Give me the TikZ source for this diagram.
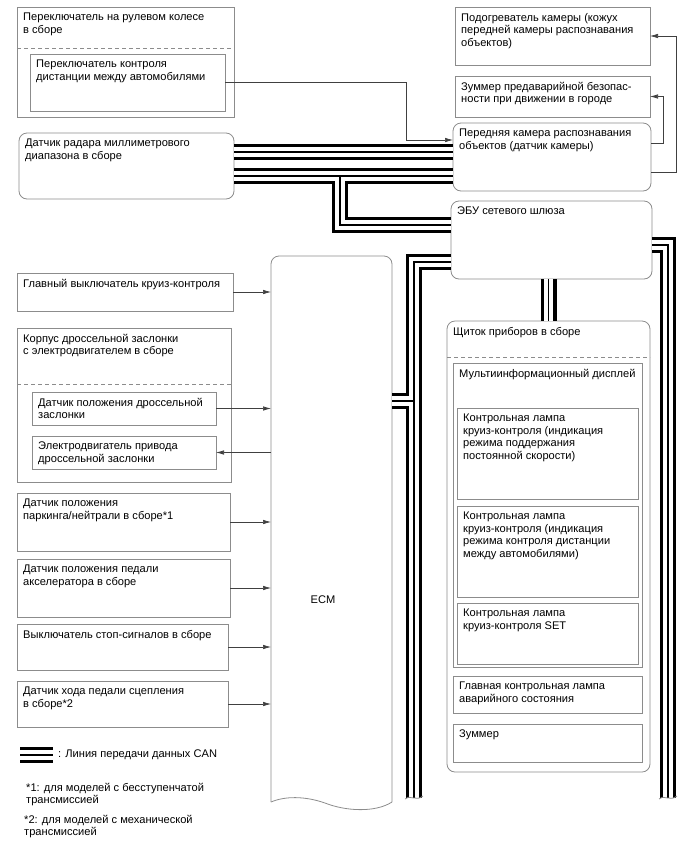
\documentclass[tikz,border=0pt]{standalone}
\usepackage{fontspec}
\setmainfont{Liberation Sans}
\usetikzlibrary{arrows.meta, positioning, calc}

\begin{document}
\begin{tikzpicture}[
        x=1pt, y=-1pt,
        unit/.style={rectangle, draw=black!45, line width=0.8pt, fill=white, anchor=north west, inner sep=0pt, outer sep=0pt},
        runit/.style={unit, rounded corners=8pt},
        txt/.style={anchor=north west, align=left, inner xsep=6pt, inner ysep=6pt, font=\fontsize{11.1}{12.5}\selectfont},
        sep/.style={draw=black!45, line width=0.8pt, dash pattern=on 4pt off 3pt},
        arrow/.style={-{Latex[length=8pt, width=4.5pt]}, draw=black!75, line width=0.7pt},
        can/.style={draw=black, line width=16pt, line join=miter,
            postaction={draw=white, line width=9.5pt},
            postaction={draw=black, line width=1.3pt}},
        cut/.style={draw=black!45, line width=0.8pt}
    ]
        \useasboundingbox (0,0) rectangle (688,852);

        % left column
        \node[unit, minimum width=217pt, minimum height=110pt] (wheel) at (17,7) {};
        \node[txt] (wheeltxt) at (wheel.north west) {Переключатель на рулевом колесе\\в сборе};
        \draw[sep] (wheel.west |- 0,48) -- (wheel.east |- 0,48);
        \node[unit, minimum width=195pt, minimum height=57pt] (distsw) at (30,54) {};
        \node[txt] (distswtxt) at (distsw.north west) {Переключатель контроля\\дистанции между автомобилями};

        \node[runit, minimum width=215pt, minimum height=66pt] (radar) at (19,133) {};
        \node[txt] (radartxt) at (radar.north west) {Датчик радара миллиметрового\\диапазона в сборе};

        \node[unit, minimum width=216pt, minimum height=38pt] (cruisesw) at (17,273) {};
        \node[txt] (cruiseswtxt) at (cruisesw.north west) {Главный выключатель круиз-контроля};

        \node[unit, minimum width=214pt, minimum height=154pt] (throttle) at (17,328) {};
        \node[txt] (throttletxt) at (throttle.north west) {Корпус дроссельной заслонки\\с электродвигателем в сборе};
        \draw[sep] (throttle.west |- 0,384) -- (throttle.east |- 0,384);
        \node[unit, minimum width=184pt, minimum height=33pt] (tps) at (32,392) {};
        \node[txt] (tpstxt) at (tps.north west) {Датчик положения дроссельной\\заслонки};
        \node[unit, minimum width=184pt, minimum height=33pt] (motor) at (32,436) {};
        \node[txt] (motortxt) at (motor.north west) {Электродвигатель привода\\дроссельной заслонки};

        \node[unit, minimum width=213pt, minimum height=58pt] (park) at (17,493) {};
        \node[txt] (parktxt) at (park.north west) {Датчик положения\\паркинга/нейтрали в сборе*1};
        \node[unit, minimum width=213pt, minimum height=58pt] (accel) at (17,559) {};
        \node[txt] (acceltxt) at (accel.north west) {Датчик положения педали\\акселератора в сборе};
        \node[unit, minimum width=211pt, minimum height=46pt] (stopsw) at (17,624) {};
        \node[txt] (stopswtxt) at (stopsw.north west) {Выключатель стоп-сигналов в сборе};
        \node[unit, minimum width=211pt, minimum height=46pt] (clutch) at (17,681) {};
        \node[txt] (clutchtxt) at (clutch.north west) {Датчик хода педали сцепления\\в сборе*2};

        % ECM
        \node[anchor=north west, minimum width=121pt, minimum height=546pt, inner sep=0pt, outer sep=0pt] (ecm) at (271,256) {};
        \draw[cut, rounded corners=8pt] (ecm.south west) -- (ecm.north west) -- (ecm.north east) -- (ecm.south east);
        \draw[cut] (ecm.south east) .. controls (375,813) and (345,811) .. (325,803) .. controls (305,796) and (285,796) .. (ecm.south west);
        \node[txt, anchor=center, inner sep=0pt] (ecmtxt) at (323,600) {ECM};

        % right column
        \node[unit, minimum width=195pt, minimum height=58pt] (heater) at (455,7) {};
        \node[txt] (heatertxt) at (heater.north west) {Подогреватель камеры (кожух\\передней камеры распознавания\\объектов)};
        \node[unit, minimum width=195pt, minimum height=41pt] (pcbuzz) at (455,76) {};
        \node[txt] (pcbuzztxt) at (pcbuzz.north west) {Зуммер предаварийной безопас-\\ности при движении в городе};
        \node[runit, minimum width=198pt, minimum height=68pt] (camera) at (453,123) {};
        \node[txt] (cameratxt) at (camera.north west) {Передняя камера распознавания\\объектов (датчик камеры)};
        \node[runit, minimum width=201pt, minimum height=78pt] (gateway) at (451,201) {};
        \node[txt] (gatewaytxt) at (gateway.north west) {ЭБУ сетевого шлюза};

        \node[runit, minimum width=203pt, minimum height=451pt] (meter) at (447,321) {};
        \node[txt] (metertxt) at (meter.north west) {Щиток приборов в сборе};
        \draw[sep] (meter.west |- 0,357) -- (meter.east |- 0,357);
        \node[unit, minimum width=189pt, minimum height=304pt] (mid) at (453,363) {};
        \node[txt] (midtxt) at (mid.north west) {Мультиинформационный дисплей};
        \node[unit, minimum width=181pt, minimum height=91pt] (lampa) at (457,408) {};
        \node[txt] (lampatxt) at (lampa.north west) {Контрольная лампа\\круиз-контроля (индикация\\режима поддержания\\постоянной скорости)};
        \node[unit, minimum width=181pt, minimum height=91pt] (lampb) at (457,506) {};
        \node[txt] (lampbtxt) at (lampb.north west) {Контрольная лампа\\круиз-контроля (индикация\\режима контроля дистанции\\между автомобилями)};
        \node[unit, minimum width=181pt, minimum height=61pt] (lampc) at (457,603) {};
        \node[txt] (lampctxt) at (lampc.north west) {Контрольная лампа\\круиз-контроля SET};
        \node[unit, minimum width=189pt, minimum height=37pt] (master) at (453,676) {};
        \node[txt] (mastertxt) at (master.north west) {Главная контрольная лампа\\аварийного состояния};
        \node[unit, minimum width=189pt, minimum height=38pt] (mbuzz) at (453,724) {};
        \node[txt] (mbuzztxt) at (mbuzz.north west) {Зуммер};

        % signal lines
        \draw[arrow] (distsw.east) -| (406,140) -- (camera.west |- 406,140);
        \draw[arrow] (camera.east |- 0,143) -| ([xshift=13pt]pcbuzz.east) -- (pcbuzz.east);
        \draw[arrow] (camera.east |- 0,172) -| ([xshift=26pt]heater.east) -- (heater.east);
        \draw[arrow] (cruisesw.east) -- (cruisesw.east -| ecm.west);
        \draw[arrow] (tps.east) -- (tps.east -| ecm.west);
        \draw[arrow] (motor.east -| ecm.west) -- (motor.east);
        \draw[arrow] (park.east) -- (park.east -| ecm.west);
        \draw[arrow] (accel.east) -- (accel.east -| ecm.west);
        \draw[arrow] (stopsw.east) -- (stopsw.east -| ecm.west);
        \draw[arrow] (clutch.east) -- (clutch.east -| ecm.west);

        % CAN lines
        \draw[can] (radar.east |- 0,152) -- (camera.west |- 0,152);
        \draw[can] (radar.east |- 0,176) -- (camera.west |- 0,176)
            (340,176) |- (gateway.west |- 0,225);
        \draw[can] (gateway.west |- 0,262) -| (414,798)
            (414,401) -- (ecm.east |- 0,401);
        \draw[can] (meter.north |- gateway.south) -- (meter.north);
        \draw[can] (gateway.east |- 0,245) -| (668,798);
        \draw[cut] (405,799) .. controls (409,794) and (416,802) .. (423,796);
        \draw[cut] (659,799) .. controls (663,794) and (670,802) .. (677,796);

        % legend and notes
        \coordinate (legl) at (20,755);
        \coordinate (legr) at (53,755);
        \draw[can] (legl) -- (legr);
        \node[txt, anchor=west, inner xsep=5pt] (legtxt) at (legr) {: Линия передачи данных CAN};
        \node[txt, inner sep=0pt] (notea) at (26,783) {*1: для моделей с бесступенчатой\\трансмиссией};
        \node[txt, inner sep=0pt] (noteb) at (24,815) {*2: для моделей с механической\\трансмиссией};
    \end{tikzpicture}
\end{document}
